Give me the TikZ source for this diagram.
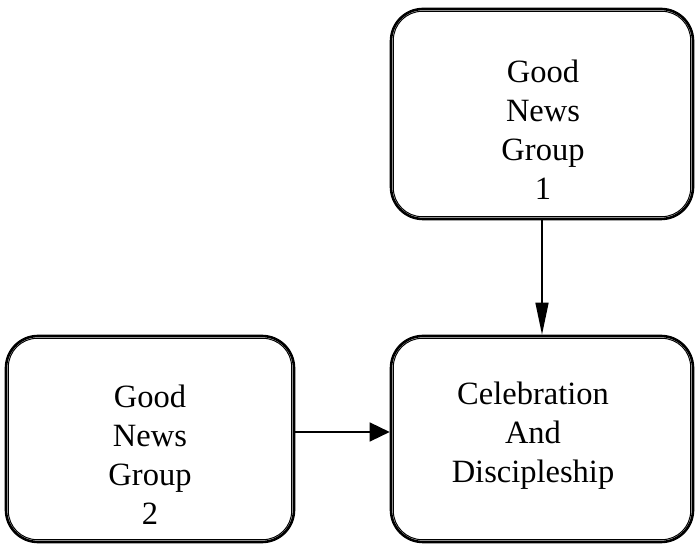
\documentclass[tikz,border=0pt]{standalone}
\usepackage{fontspec}
\setmainfont{Liberation Serif}
\usetikzlibrary{arrows.meta}
\begin{document}
\begin{tikzpicture}[x=1bp,y=1bp,
  groupbox/.style={draw, line width=2.6bp, rounded corners=32bp, inner sep=0pt},
  innerrim/.style={line width=1bp, rounded corners=29bp},
  boxtext/.style={align=center, font=\fontsize{32.5bp}{39bp}\selectfont, inner sep=0pt},
  flow/.style={line width=1.4bp}]
\useasboundingbox (0,0) rectangle (695,546);
% outer frames
\node[groupbox, minimum width=302bp, minimum height=210bp] (g1) at (542,432) {};
\node[groupbox, minimum width=288bp, minimum height=206bp] (g2) at (150,107) {};
\node[groupbox, minimum width=302bp, minimum height=206bp] (cd) at (542,107) {};
% inner thin rims
\foreach \b in {g1,g2,cd}
  \draw[innerrim] ([shift={(3.6bp,-3.6bp)}]\b.north west) rectangle ([shift={(-3.6bp,3.6bp)}]\b.south east);
% labels
\node[boxtext] (t1) at (543,416) {Good\\News\\Group\\1};
\node[boxtext] (t2) at (150,91) {Good\\News\\Group\\2};
\node[boxtext] (t3) at (533,110) {Celebration\\And\\Discipleship};
% connectors
\draw[flow, -{Triangle[length=32bp,width=13bp]}] (g1.south) -- (cd.north);
\draw[flow, -{Triangle[length=20bp,width=19bp]}] ([yshift=7bp]g2.east) -- ([yshift=7bp]cd.west);
\end{tikzpicture}
\end{document}
